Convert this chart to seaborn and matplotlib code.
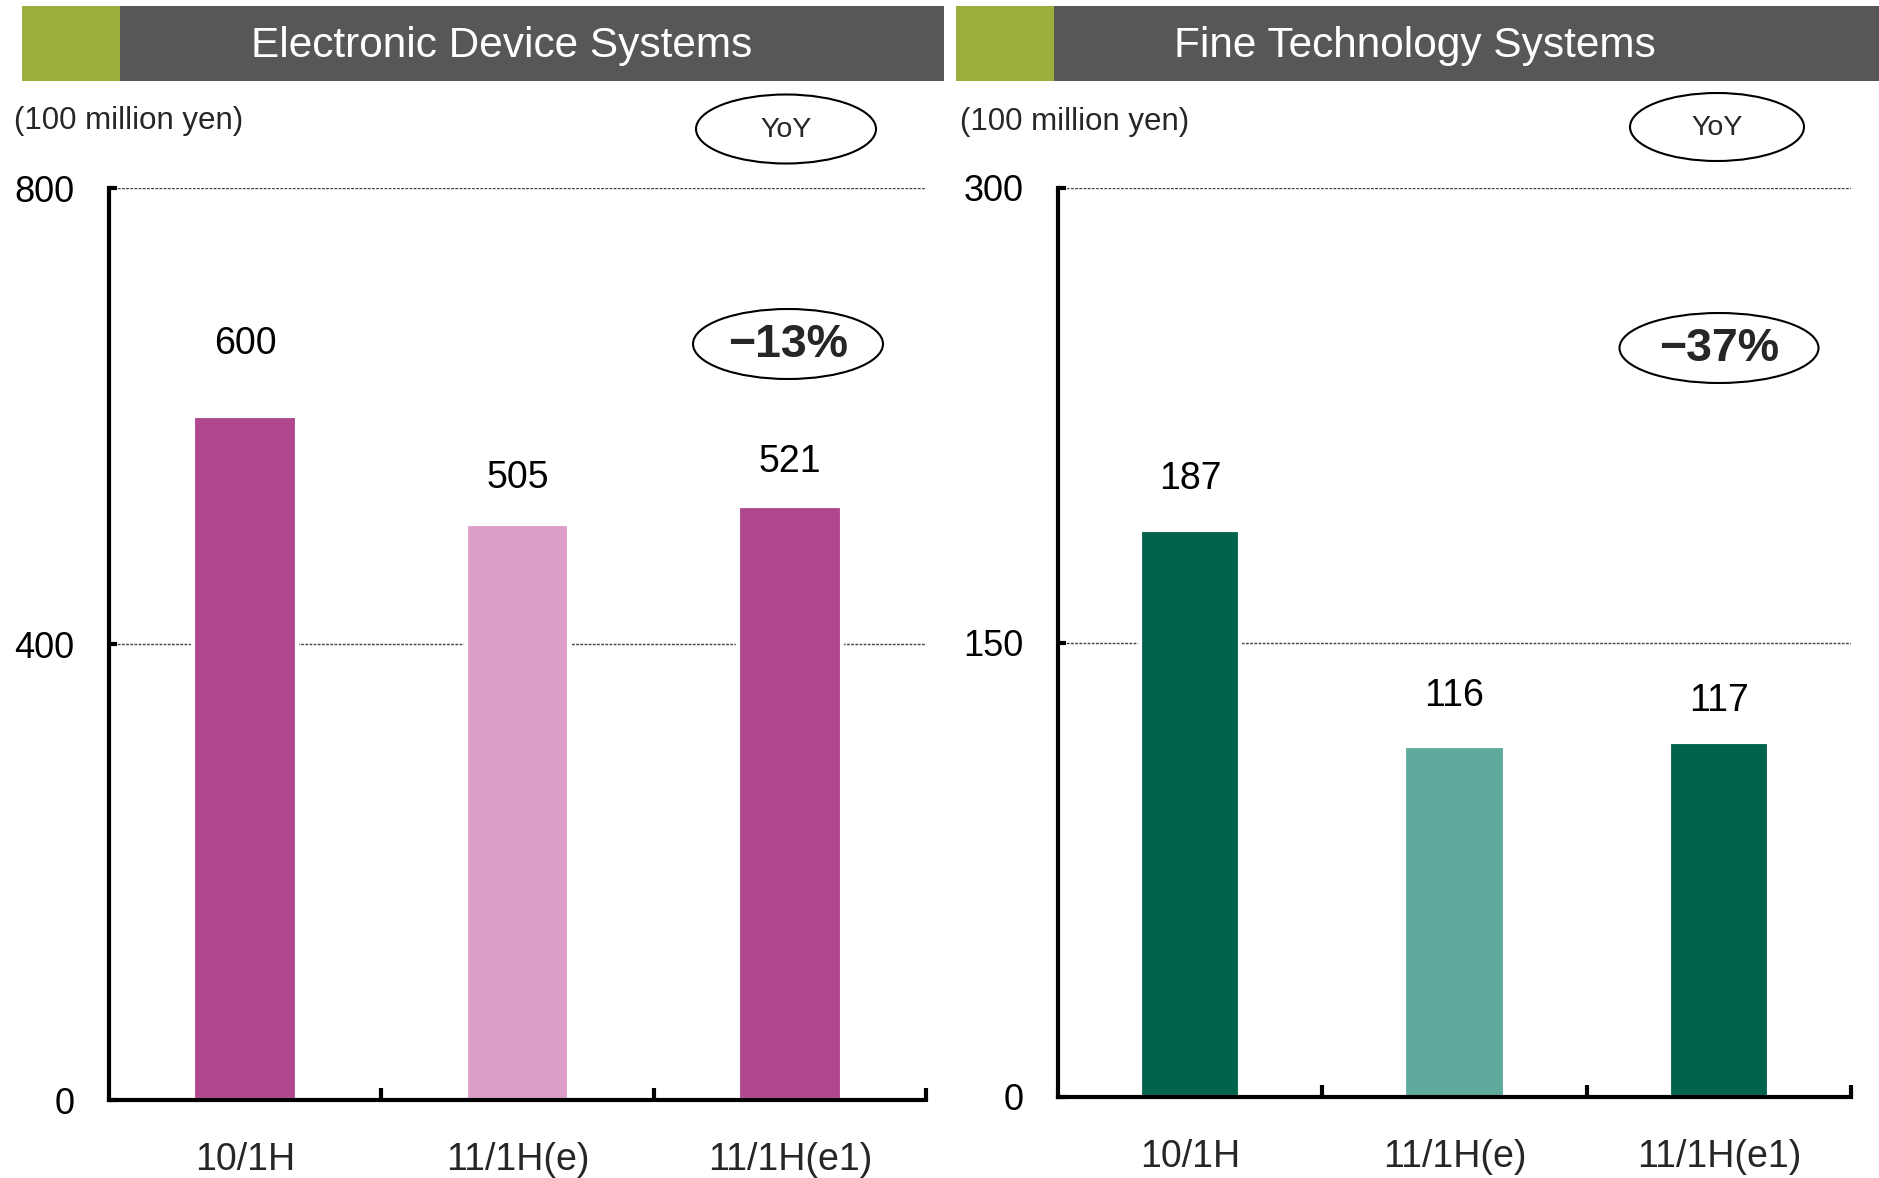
import matplotlib
matplotlib.use("Agg")
import matplotlib.pyplot as plt
import seaborn as sns
from matplotlib import font_manager
from matplotlib.patches import Ellipse, Rectangle
from matplotlib.ticker import FixedLocator

# --- Data ---
categories = ["10/1H", "11/1H(e)", "11/1H(e1)"]
eds_values = [600, 505, 521]
fts_values = [187, 116, 117]
eds_ticks = [0, 400, 800]
fts_ticks = [0, 150, 300]
eds_yoy = "\u221213%"
fts_yoy = "\u221237%"
eds_title = "Electronic Device Systems"
fts_title = "Fine Technology Systems"
unit_label = "(100 million yen)"

# --- Styling ---
eds_colors = ["#B0468E", "#DC9EC8", "#B0468E"]
fts_colors = ["#00634C", "#5EAA9C", "#00634C"]
eds_label_offsets = [52, 33, 32]   # points above bar top
fts_label_offsets = [37, 36, 30]
header_green = "#9BAE3B"
header_gray = "#575757"

sns.set_style("white")
names = {f.name for f in font_manager.fontManager.ttflist}
narrow = "Liberation Sans Narrow" if "Liberation Sans Narrow" in names else "Liberation Sans"
plt.rcParams["font.family"] = ["Liberation Sans", "DejaVu Sans"]
narrow_fam = [narrow, "Liberation Sans", "DejaVu Sans"]

W, H = 1879, 1178
fig = plt.figure(figsize=(W / 100, H / 100), dpi=100)


def px_axes(x0, y0, x1, y1):
    # pixel box (top-left origin) -> figure fraction
    return fig.add_axes([x0 / W, 1 - y1 / H, (x1 - x0) / W, (y1 - y0) / H])


def draw_panel(ax, values, colors, ticks, offsets):
    sns.barplot(
        x=categories, y=values, hue=categories, order=categories,
        hue_order=categories, palette=colors, legend=False, width=0.38,
        saturation=1, edgecolor="white", linewidth=3, ax=ax,
    )
    ax.set_xlim(-0.5, 2.5)
    ax.set_ylim(ticks[0], ticks[-1])
    ax.set_xlabel("")
    ax.set_ylabel("")

    for i, v in enumerate(values):
        ax.annotate(str(v), (i, v), xytext=(0, offsets[i]),
                    textcoords="offset points", ha="center", va="center",
                    fontsize=27, color="black")

    ax.set_yticks(ticks)
    ax.set_yticklabels([str(t) for t in ticks])
    ax.tick_params(axis="y", left=True, direction="in", length=6, width=3,
                   pad=25, labelsize=26, colors="black")
    ax.set_xticks(range(len(categories)))
    ax.set_xticklabels(categories, fontsize=27, family=narrow_fam)
    ax.tick_params(axis="x", which="major", length=0, pad=30)
    ax.xaxis.set_minor_locator(FixedLocator([0.5, 1.5, 2.5]))
    ax.tick_params(axis="x", which="minor", bottom=True, direction="in",
                   length=9, width=3, color="black")

    ax.grid(axis="y", linestyle=(0, (2, 1)), color="#444444", linewidth=1)
    ax.set_axisbelow(True)
    for side in ["top", "right"]:
        ax.spines[side].set_visible(False)
    for side in ["left", "bottom"]:
        ax.spines[side].set_color("black")
        ax.spines[side].set_linewidth(3)


ax_left = px_axes(109, 188, 926, 1100)
draw_panel(ax_left, eds_values, eds_colors, eds_ticks, eds_label_offsets)

ax_right = px_axes(1058, 188, 1851, 1097)
draw_panel(ax_right, fts_values, fts_colors, fts_ticks, fts_label_offsets)

# --- Overlay for headers, unit labels and ellipses (pixel coords) ---
ov = fig.add_axes([0, 0, 1, 1], zorder=10)
ov.set_xlim(0, W)
ov.set_ylim(H, 0)
ov.axis("off")

for gx0, gx1, bx1, title, tx in [
    (22, 120, 944, eds_title, 502),
    (956, 1054, 1879, fts_title, 1415),
]:
    ov.add_patch(Rectangle((gx0, 6), gx1 - gx0, 75, color=header_green, lw=0))
    ov.add_patch(Rectangle((gx1, 6), bx1 - gx1, 75, color=header_gray, lw=0))
    ov.text(tx, 46, title, ha="center", va="center", color="white",
            fontsize=30.5, family=narrow_fam)

ov.text(14, 121, unit_label, ha="left", va="center", fontsize=22.5, family=narrow_fam)
ov.text(960, 122, unit_label, ha="left", va="center", fontsize=22.5, family=narrow_fam)

for cx, cy, w, h in [(786, 129, 180, 69), (1717, 127, 174, 68)]:
    ov.add_patch(Ellipse((cx, cy), w, h, fill=False, ec="black", lw=1.5))
    ov.text(cx, cy + 1, "YoY", ha="center", va="center", fontsize=20.5,
            family=narrow_fam)

for cx, cy, w, h, txt in [(788, 344, 190, 70, eds_yoy), (1719, 348, 199, 70, fts_yoy)]:
    ov.add_patch(Ellipse((cx, cy), w, h, fill=False, ec="black", lw=1.5))
    ov.text(cx, cy + 1, txt, ha="center", va="center", fontsize=33.5,
            fontweight="bold")

fig.savefig("out.png", dpi=100)
